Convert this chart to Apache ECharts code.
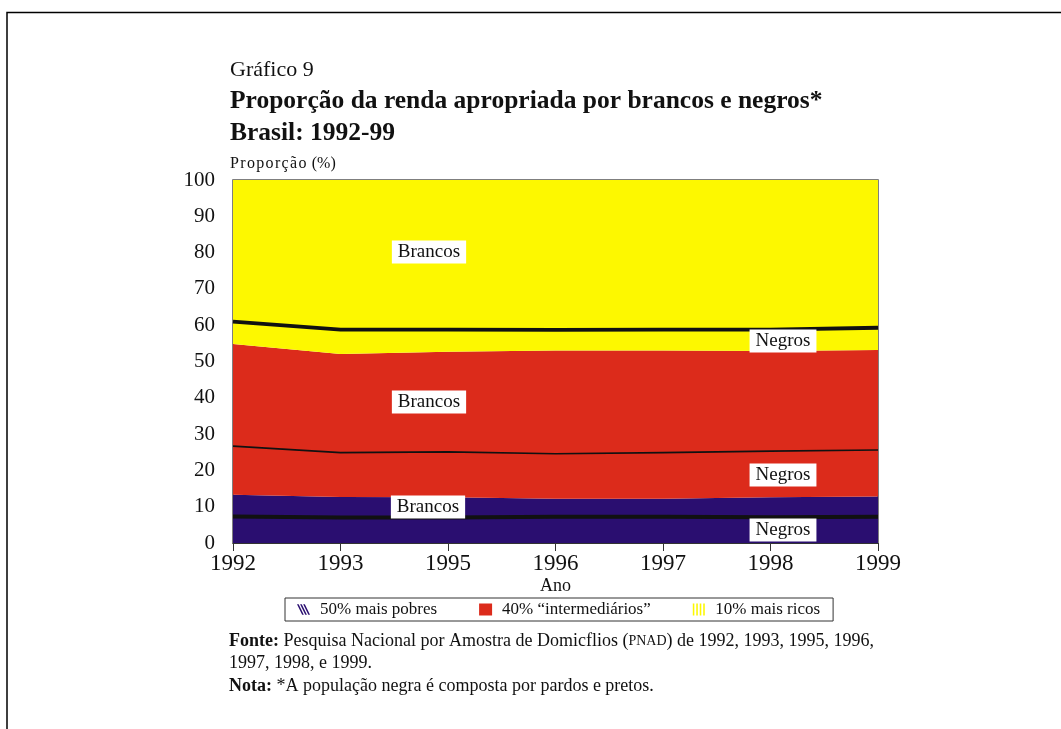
<!DOCTYPE html>
<html>
<head>
<meta charset="utf-8">
<script src="https://cdn.jsdelivr.net/npm/echarts@6/dist/echarts.min.js"></script>
<style>
html,body{margin:0;padding:0;background:#fff;}
#c{width:1061px;height:729px;}
</style>
</head>
<body>
<div id="c"></div>
<script>
// Categories (years)
const years = ['1992','1993','1995','1996','1997','1998','1999'];
const yTicks = [0,10,20,30,40,50,60,70,80,90,100];
// Stacked shares (percentage points)
const pobresNegros   = [7.3, 7.0, 7.0, 7.2, 7.2, 7.1, 7.2];
const pobresBrancos  = [6.0, 5.7, 5.6, 5.0, 5.0, 5.5, 5.6];
const interNegros    = [13.4, 12.2, 12.5, 12.4, 12.7, 12.7, 12.8];
const interBrancos   = [28.1, 27.2, 27.6, 28.4, 28.1, 27.6, 27.6];
const ricosNegros    = [6.2, 6.7, 6.1, 5.7, 5.8, 5.9, 6.1];
const ricosBrancos   = [39.0, 41.2, 41.2, 41.3, 41.2, 41.2, 40.7];

const groupNames = ['50% mais pobres', '40% \u201cintermedi\u00e1rios\u201d', '10% mais ricos'];
const colPurple = '#2a0e70', colRed = '#dc2b1b', colYellow = '#fdf800';
const serif = '"Liberation Serif","DejaVu Serif",serif';

function band(name, data, color, z, lineW) {
  return {
    name: name, type: 'line', stack: 'total', data: data, symbol: 'none', z: z,
    areaStyle: { color: color, opacity: 1 },
    lineStyle: lineW > 0 ? { color: '#111', width: lineW } : { width: 0, color: color },
    itemStyle: { color: color },
    emphasis: { disabled: true }
  };
}

const hatchIcon = 'path://M0,0 L1.6,0 L6.6,10 L5,10 Z M3,0 L4.6,0 L9.6,10 L8,10 Z M6,0 L7.6,0 L12.6,10 L11,10 Z';
const stripeIcon = 'path://M0,0 L1.3,0 L1.3,10 L0,10 Z M2.9,0 L4.2,0 L4.2,10 L2.9,10 Z M5.8,0 L7.1,0 L7.1,10 L5.8,10 Z M8.7,0 L10,0 L10,10 L8.7,10 Z';

function lab(text, cx, cy) {
  return {
    type: 'text', x: cx, y: cy, z: 100,
    style: {
      text: text, font: '19px ' + serif, fill: '#111',
      align: 'center', verticalAlign: 'middle',
      backgroundColor: '#fff', padding: [3, 6, 1, 6]
    }
  };
}

const hs = '\u200a';
const chart = echarts.init(document.getElementById('c'), null, { renderer: 'canvas' });
chart.setOption({
  animation: false,
  backgroundColor: '#fff',
  title: [
    { text: 'Gr\u00e1fico 9', left: 225, top: 54, textStyle: { fontFamily: serif, fontSize: 22, fontWeight: 'normal', color: '#111' } },
    { text: 'Propor\u00e7\u00e3o da renda apropriada por brancos e negros*', left: 225, top: 83, textStyle: { fontFamily: serif, fontSize: 25.5, fontWeight: 'bold', color: '#111' } },
    { text: 'Brasil: 1992-99', left: 225, top: 115, textStyle: { fontFamily: serif, fontSize: 25.5, fontWeight: 'bold', color: '#111' } },
    { text: ['P','r','o','p','o','r','\u00e7','\u00e3','o',' (%)'].join(hs), left: 225, top: 151, textStyle: { fontFamily: serif, fontSize: 16, fontWeight: 'normal', color: '#111' } }
  ],
  grid: { left: 233, right: 183, top: 180, bottom: 186, show: true, borderColor: '#555', borderWidth: 1.5, backgroundColor: 'transparent' },
  legend: {
    left: 285, top: 598,
    padding: [3, 13, 3, 12],
    borderColor: '#333', borderWidth: 1,
    itemWidth: 13, itemHeight: 12, itemGap: 42,
    data: [
      { name: groupNames[0], icon: hatchIcon, itemStyle: { color: colPurple } },
      { name: groupNames[1], icon: 'rect', itemStyle: { color: colRed }, textStyle: { padding: [0, 5, 0, 5] } },
      { name: groupNames[2], icon: stripeIcon, itemStyle: { color: colYellow } }
    ],
    textStyle: { fontFamily: serif, fontSize: 17, color: '#111', padding: [0, 0, 0, 5] },
    selectedMode: false
  },
  xAxis: {
    type: 'category', data: years, boundaryGap: false,
    name: 'Ano', nameLocation: 'middle', nameGap: 34,
    nameTextStyle: { fontFamily: serif, fontSize: 18, color: '#111' },
    axisLine: { show: true, lineStyle: { color: '#333', width: 1 } },
    axisTick: { show: true, length: 8, lineStyle: { color: '#333' } },
    axisLabel: { fontFamily: serif, fontSize: 23, color: '#111', margin: 9 },
    splitLine: { show: false }
  },
  yAxis: {
    type: 'value', min: 0, max: 100, interval: 10,
    axisLine: { show: false }, axisTick: { show: false },
    axisLabel: { fontFamily: serif, fontSize: 21, color: '#111', margin: 18 },
    splitLine: { show: false }
  },
  series: [
    band(groupNames[0], pobresNegros, colPurple, 5, 4),
    band(groupNames[0], pobresBrancos, colPurple, 3, 0),
    band(groupNames[1], interNegros, colRed, 5, 1.6),
    band(groupNames[1], interBrancos, colRed, 3, 0),
    band(groupNames[2], ricosNegros, colYellow, 5, 3.8),
    band(groupNames[2], ricosBrancos, colYellow, 3, 0)
  ],
  graphic: [
    { type: 'polyline', z: 100, shape: { points: [[7, 760], [7, 12.5], [1070, 12.5]] }, style: { stroke: '#000', lineWidth: 1.5, fill: null } },
    lab('Brancos', 429, 252),
    lab('Brancos', 429, 402),
    lab('Brancos', 428, 507),
    lab('Negros', 783, 341),
    lab('Negros', 783, 475),
    lab('Negros', 783, 530),
    {
      type: 'text', left: 229, top: 630, z: 100,
      style: {
        text: '{b|Fonte:} Pesquisa Nacional por Amostra de Domicflios ({s|PNAD}) de 1992, 1993, 1995, 1996,\n1997, 1998, e 1999.\n{b|Nota:} *A popula\u00e7\u00e3o negra \u00e9 composta por pardos e pretos.',
        font: '18px ' + serif, fill: '#111', lineHeight: 22.5,
        rich: {
          b: { fontFamily: serif, fontSize: 18, fontWeight: 'bold', fill: '#111' },
          s: { fontFamily: serif, fontSize: 14, fill: '#111' }
        }
      }
    }
  ]
});
</script>
</body>
</html>
